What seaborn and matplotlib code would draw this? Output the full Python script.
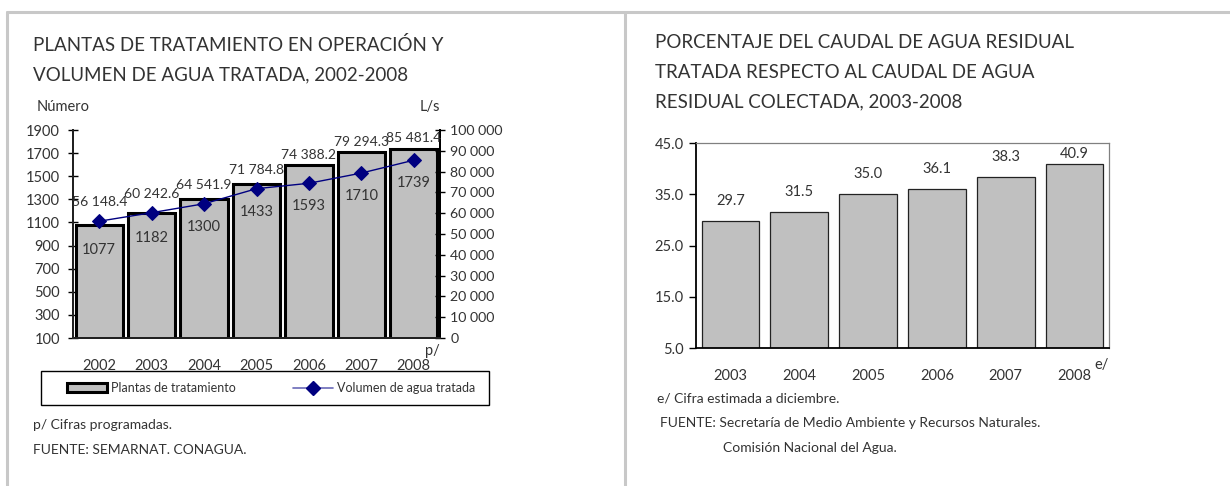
import numpy as np
import matplotlib
matplotlib.use("Agg")
import matplotlib.pyplot as plt
from matplotlib.lines import Line2D
from matplotlib.patches import Patch, Rectangle
import matplotlib.ticker as mticker
import pandas as pd
import seaborn as sns

# ── Data ────────────────────────────────────────────────────
years_left = ["2002", "2003", "2004", "2005", "2006", "2007", "2008"]
plantas = [1077, 1182, 1300, 1433, 1593, 1710, 1739]
volumen = [56148.4, 60242.6, 64541.9, 71784.8, 74388.2, 79294.3, 85481.4]

years_right = ["2003", "2004", "2005", "2006", "2007", "2008"]
porcentaje = [29.7, 31.5, 35.0, 36.1, 38.3, 40.9]

# ── Styling ─────────────────────────────────────────────────
sns.set_theme(style="white")
plt.rcParams["font.family"] = ["Lato", "DejaVu Sans"]
TXT = "#333333"
GRAY = "#c0c0c0"
NAVY = "#000080"
W, H = 1230, 486

def fx(px):
    return px / W

def fy(py):
    return 1 - py / H

def sp(v, fmt="{:,.0f}"):
    return fmt.format(v).replace(",", " ")

fig = plt.figure(figsize=(12.3, 4.86), dpi=100)

# panel borders
border = dict(color="#c8c8c8", lw=2.2, transform=fig.transFigure)
fig.add_artist(Line2D([fx(7), 1.0], [fy(12), fy(12)], **border))
fig.add_artist(Line2D([fx(7), fx(7)], [0, fy(12)], **border))
fig.add_artist(Line2D([fx(625), fx(625)], [0, fy(12)], **border))

# ============================================================
# LEFT: plantas + volumen
# ============================================================
fig.text(fx(33), fy(45), "PLANTAS DE TRATAMIENTO EN OPERACIÓN Y",
         fontsize=13.5, color=TXT, va="center")
fig.text(fx(33), fy(75), "VOLUMEN DE AGUA TRATADA, 2002-2008",
         fontsize=13.5, color=TXT, va="center")
fig.text(fx(37), fy(107), "Número", fontsize=10.5, color=TXT, va="center")
fig.text(fx(420), fy(107), "L/s", fontsize=10.5, color=TXT, va="center")

ax = fig.add_axes([fx(73), fy(338), fx(440) - fx(73), fy(130) - fy(338)])
df_l = pd.DataFrame({"anio": years_left, "plantas": plantas, "volumen": volumen})
sns.barplot(data=df_l, x="anio", y="plantas", ax=ax, color=GRAY,
            saturation=1, width=0.9, edgecolor="black", linewidth=2.2)
ax.set_ylim(100, 1900)
ax.set_xlim(-0.5, len(years_left) - 0.5)
ax.set_yticks(np.arange(100, 1901, 200))
ax.set_xlabel("")
ax.set_ylabel("")
ax.set_xticks(np.arange(-0.5, len(years_left), 1))
ax.set_xticklabels([])
ax.set_xticks(np.arange(len(years_left)), minor=True)
ax.set_xticklabels(years_left, minor=True)
ax.tick_params(axis="x", which="major", direction="out", length=6, width=1, color="black")
ax.tick_params(axis="x", which="minor", length=0, pad=15, labelsize=10.5, labelcolor=TXT)
ax.tick_params(axis="y", direction="inout", length=7, width=1, color="black",
               labelsize=10.5, labelcolor=TXT, pad=6, left=True)
for s in ["left", "bottom", "right"]:
    ax.spines[s].set_color("black")
    ax.spines[s].set_linewidth(1.4)
ax.spines["top"].set_visible(False)

ax2 = ax.twinx()
x_pos = np.arange(len(years_left))
sns.lineplot(x=x_pos, y=volumen, ax=ax2, color=NAVY, lw=1.0, marker="D",
             markersize=7, markeredgecolor=NAVY, legend=False)
ax2.set_ylim(0, 100000)
ax2.set_yticks(np.arange(0, 100001, 10000))
ax2.yaxis.set_major_formatter(mticker.FuncFormatter(lambda v, p: sp(v)))
ax2.tick_params(axis="y", direction="inout", length=7, width=1, color="black",
                labelsize=10.2, labelcolor=TXT, pad=4, right=True)
ax2.spines["top"].set_visible(False)
ax2.spines["right"].set_color("black")
ax2.spines["right"].set_linewidth(1.4)
ax2.set_xlim(-0.5, len(years_left) - 0.5)

# labels placed to avoid bars / line (units of the volume axis)
scale = 100000 / 1800
for i, (c, v) in enumerate(zip(plantas, volumen)):
    bar_top = (c - 100) * scale
    y_vol = max(v + 9000, bar_top + 5000)
    ax2.text(i, y_vol, sp(v, "{:,.1f}"), ha="center", va="center",
             fontsize=10, color=TXT)
    y_cnt = min(bar_top - 12000, v - 11000)
    ax2.text(i, y_cnt, str(c), ha="center", va="center", fontsize=10.5, color=TXT)

ax.annotate("p/", xy=(1.0, 0), xycoords="axes fraction", xytext=(0, -9),
            textcoords="offset points", ha="right", va="center",
            fontsize=10.5, color=TXT)

# legend box
fig.add_artist(Rectangle((fx(41), fy(405)), fx(489) - fx(41), fy(371) - fy(405),
                         transform=fig.transFigure, facecolor="none",
                         edgecolor="black", lw=1.0))
handles = [Patch(facecolor=GRAY, edgecolor="black", linewidth=2.2),
           Line2D([0], [0], color="#6a6ab8", lw=1.2, marker="D", markersize=7,
                  markerfacecolor=NAVY, markeredgecolor=NAVY)]
leg = fig.legend(handles, ["Plantas de tratamiento", "Volumen de agua tratada"],
                 loc="center", bbox_to_anchor=(fx(271), fy(388)),
                 ncol=2, frameon=False, fontsize=9, handlelength=3.2,
                 handletextpad=0.3, columnspacing=4.6, labelcolor=TXT)

fig.text(fx(33), fy(425), "p/ Cifras programadas.", fontsize=10, color=TXT, va="center")
fig.text(fx(33), fy(450), "FUENTE: SEMARNAT. CONAGUA.", fontsize=10, color=TXT, va="center")

# ============================================================
# RIGHT: porcentaje
# ============================================================
for k, line in enumerate(["PORCENTAJE DEL CAUDAL DE AGUA RESIDUAL",
                          "TRATADA RESPECTO AL CAUDAL DE AGUA",
                          "RESIDUAL COLECTADA, 2003-2008"]):
    fig.text(fx(655), fy(42 + 30 * k), line, fontsize=13.5, color=TXT, va="center")

bx = fig.add_axes([fx(696), fy(348), fx(1109) - fx(696), fy(143) - fy(348)])
df_r = pd.DataFrame({"anio": years_right, "pct": porcentaje})
sns.barplot(data=df_r, x="anio", y="pct", ax=bx, color=GRAY, saturation=1,
            width=0.84, edgecolor="#222222", linewidth=0.9)
bx.set_ylim(5, 45)
bx.set_xlim(-0.5, len(years_right) - 0.5)
bx.set_yticks(np.arange(5, 46, 10))
bx.yaxis.set_major_formatter(mticker.FormatStrFormatter("%.1f"))
bx.set_xlabel("")
bx.set_ylabel("")
bx.set_xticks(np.arange(-0.5, len(years_right), 1))
bx.set_xticklabels([])
bx.set_xticks(np.arange(len(years_right)), minor=True)
bx.set_xticklabels(years_right, minor=True)
bx.tick_params(axis="x", which="major", direction="inout", length=8, width=1, color="black")
bx.tick_params(axis="x", which="minor", length=0, pad=15, labelsize=10.5, labelcolor=TXT)
bx.tick_params(axis="y", direction="out", length=5, width=1, color="black",
               labelsize=10.5, labelcolor=TXT, pad=4, left=True)
for s in ["left", "bottom"]:
    bx.spines[s].set_color("black")
    bx.spines[s].set_linewidth(1.3)
for s in ["top", "right"]:
    bx.spines[s].set_color("#808080")
    bx.spines[s].set_linewidth(0.9)

for i, v in enumerate(porcentaje):
    bx.text(i, min(v + 3.9, 42.9), f"{v:.1f}", ha="center", va="center",
            fontsize=10.5, color=TXT)

bx.annotate("e/", xy=(1.0, 0), xycoords="axes fraction", xytext=(0, -12),
            textcoords="offset points", ha="right", va="center",
            fontsize=10.5, color=TXT)

fig.text(fx(657), fy(398), "e/ Cifra estimada a diciembre.", fontsize=10, color=TXT, va="center")
fig.text(fx(660), fy(423), "FUENTE: Secretaría de Medio Ambiente y Recursos Naturales.",
         fontsize=10, color=TXT, va="center")
fig.text(fx(723), fy(448), "Comisión Nacional del Agua.", fontsize=10, color=TXT, va="center")

fig.savefig("out.png", dpi=100)
plt.close()
